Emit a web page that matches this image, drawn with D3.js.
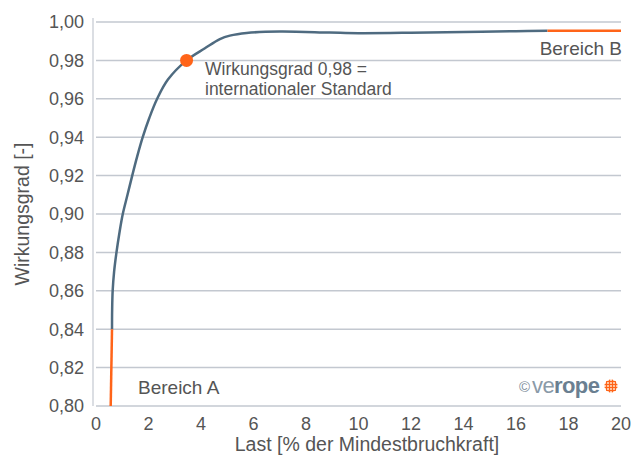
<!DOCTYPE html>
<html lang="de">
<head>
  <meta charset="utf-8">
  <title>Wirkungsgrad</title>
  <script src="https://d3js.org/d3.v7.min.js"></script>
  <style>
    body { margin: 0; background: #fff; }
    text { font-family: "Liberation Sans", Arial, sans-serif; fill: #555; }
  </style>
</head>
<body>
<script>
// data
var xTicks = [0, 2, 4, 6, 8, 10, 12, 14, 16, 18, 20];
var yTicks = [0.80, 0.82, 0.84, 0.86, 0.88, 0.90, 0.92, 0.94, 0.96, 0.98, 1.00];
var bereichA = [[0.56, 0.80], [0.61, 0.84]];
var kurve = [[0.61, 0.84], [0.615, 0.85], [0.635, 0.86], [0.69, 0.87], [0.78, 0.88], [0.89, 0.89],
             [1.02, 0.90], [1.2, 0.91], [1.38, 0.92], [1.57, 0.93], [1.78, 0.94], [2.03, 0.95],
             [2.33, 0.96], [2.74, 0.97], [3.45, 0.98],
             [4.15, 0.9863], [4.72, 0.9911], [5.1, 0.9929], [5.74, 0.9943], [7.0, 0.995],
             [8.9, 0.9945], [10, 0.9942], [12, 0.9944], [14, 0.9948], [16, 0.9952], [17.2, 0.9954]];
var bereichB = [[17.2, 0.9954], [20, 0.9955]];
var standard = [3.45, 0.98];

var width = 634, height = 455;
var margin = {top: 22, right: 13, bottom: 49, left: 96};

var svg = d3.select("body").append("svg")
  .attr("width", width).attr("height", height);

var x = d3.scaleLinear().domain([0, 20]).range([margin.left, width - margin.right]);
var y = d3.scaleLinear().domain([0.80, 1.00]).range([height - margin.bottom, margin.top]);

var fmt = function(d) { return d3.format(".2f")(d).replace(".", ","); };

// grid lines
svg.append("g")
  .selectAll("line").data(yTicks).enter().append("line")
  .attr("x1", x(0)).attr("x2", x(20))
  .attr("y1", function(d) { return y(d); }).attr("y2", function(d) { return y(d); })
  .attr("stroke", "#c3c8d0").attr("stroke-width", 1.5);

// y axis line
svg.append("line")
  .attr("x1", x(0) - 3).attr("x2", x(0) - 3)
  .attr("y1", y(1.0) - 4).attr("y2", y(0.80))
  .attr("stroke", "#c3c8d0").attr("stroke-width", 1.2);

// y labels
svg.append("g").selectAll("text").data(yTicks).enter().append("text")
  .attr("x", 84).attr("y", function(d) { return y(d); })
  .attr("dy", "0.36em")
  .attr("text-anchor", "end")
  .attr("font-size", "18px")
  .text(fmt);

// x labels
svg.append("g").selectAll("text").data(xTicks).enter().append("text")
  .attr("x", function(d) { return x(d); }).attr("y", 430)
  .attr("text-anchor", "middle")
  .attr("font-size", "18px")
  .text(function(d) { return d; });

// axis titles
svg.append("text")
  .attr("x", 367).attr("y", 451)
  .attr("text-anchor", "middle").attr("font-size", "19.5px")
  .text("Last [% der Mindestbruchkraft]");

svg.append("text")
  .attr("transform", "translate(29," + y(0.90) + ") rotate(-90)")
  .attr("text-anchor", "middle").attr("font-size", "19.5px")
  .text("Wirkungsgrad [-]");

// curve
var line = d3.line()
  .x(function(d) { return x(d[0]); })
  .y(function(d) { return y(d[1]); })
  .curve(d3.curveCatmullRom.alpha(0.5));

svg.append("path").datum(kurve)
  .attr("d", line)
  .attr("fill", "none").attr("stroke", "#4f6b80").attr("stroke-width", 2.5);

svg.append("path").datum(bereichA)
  .attr("d", line)
  .attr("fill", "none").attr("stroke", "#ff6419").attr("stroke-width", 2.5);
svg.append("path").datum(bereichB)
  .attr("d", line)
  .attr("fill", "none").attr("stroke", "#ff6419").attr("stroke-width", 2.5);

// point
svg.append("circle")
  .attr("cx", x(standard[0])).attr("cy", y(standard[1]))
  .attr("r", 6.5).attr("fill", "#ff6419");

// annotations
svg.append("text").attr("x", 205).attr("y", 75).attr("font-size", "17.5px")
  .text("Wirkungsgrad 0,98 =");
svg.append("text").attr("x", 205).attr("y", 95).attr("font-size", "17.5px")
  .text("internationaler Standard");
svg.append("text").attr("x", 138).attr("y", 394).attr("font-size", "19px")
  .text("Bereich A");
svg.append("text").attr("x", 622).attr("y", 55).attr("font-size", "19px")
  .attr("text-anchor", "end")
  .text("Bereich B");

// logo
var logo = svg.append("g").attr("transform", "translate(519,393)");
logo.append("text").attr("x", 0).attr("y", -1).attr("font-size", "15px")
  .style("fill", "#7d8d9b").text("©");
var lt = logo.append("text").attr("x", 13).attr("y", 0).attr("font-size", "22px")
  .attr("letter-spacing", "-0.6px");
lt.append("tspan").style("fill", "#8a9aa8").text("ve");
lt.append("tspan").style("fill", "#6a7f91").attr("font-weight", "bold").text("rope");
var ball = logo.append("g").attr("transform", "translate(92,-7)");
ball.append("circle").attr("r", 6.5).attr("fill", "#ffc4a0");
[-4.5, -1.5, 1.5, 4.5].forEach(function(o) {
  var h = Math.sqrt(42 - o * o);
  ball.append("line").attr("x1", o).attr("x2", o).attr("y1", -h).attr("y2", h)
    .attr("stroke", "#ff6419").attr("stroke-width", 1);
  ball.append("line").attr("y1", o).attr("y2", o).attr("x1", -h).attr("x2", h)
    .attr("stroke", "#ff6419").attr("stroke-width", 1);
});
</script>
</body>
</html>
